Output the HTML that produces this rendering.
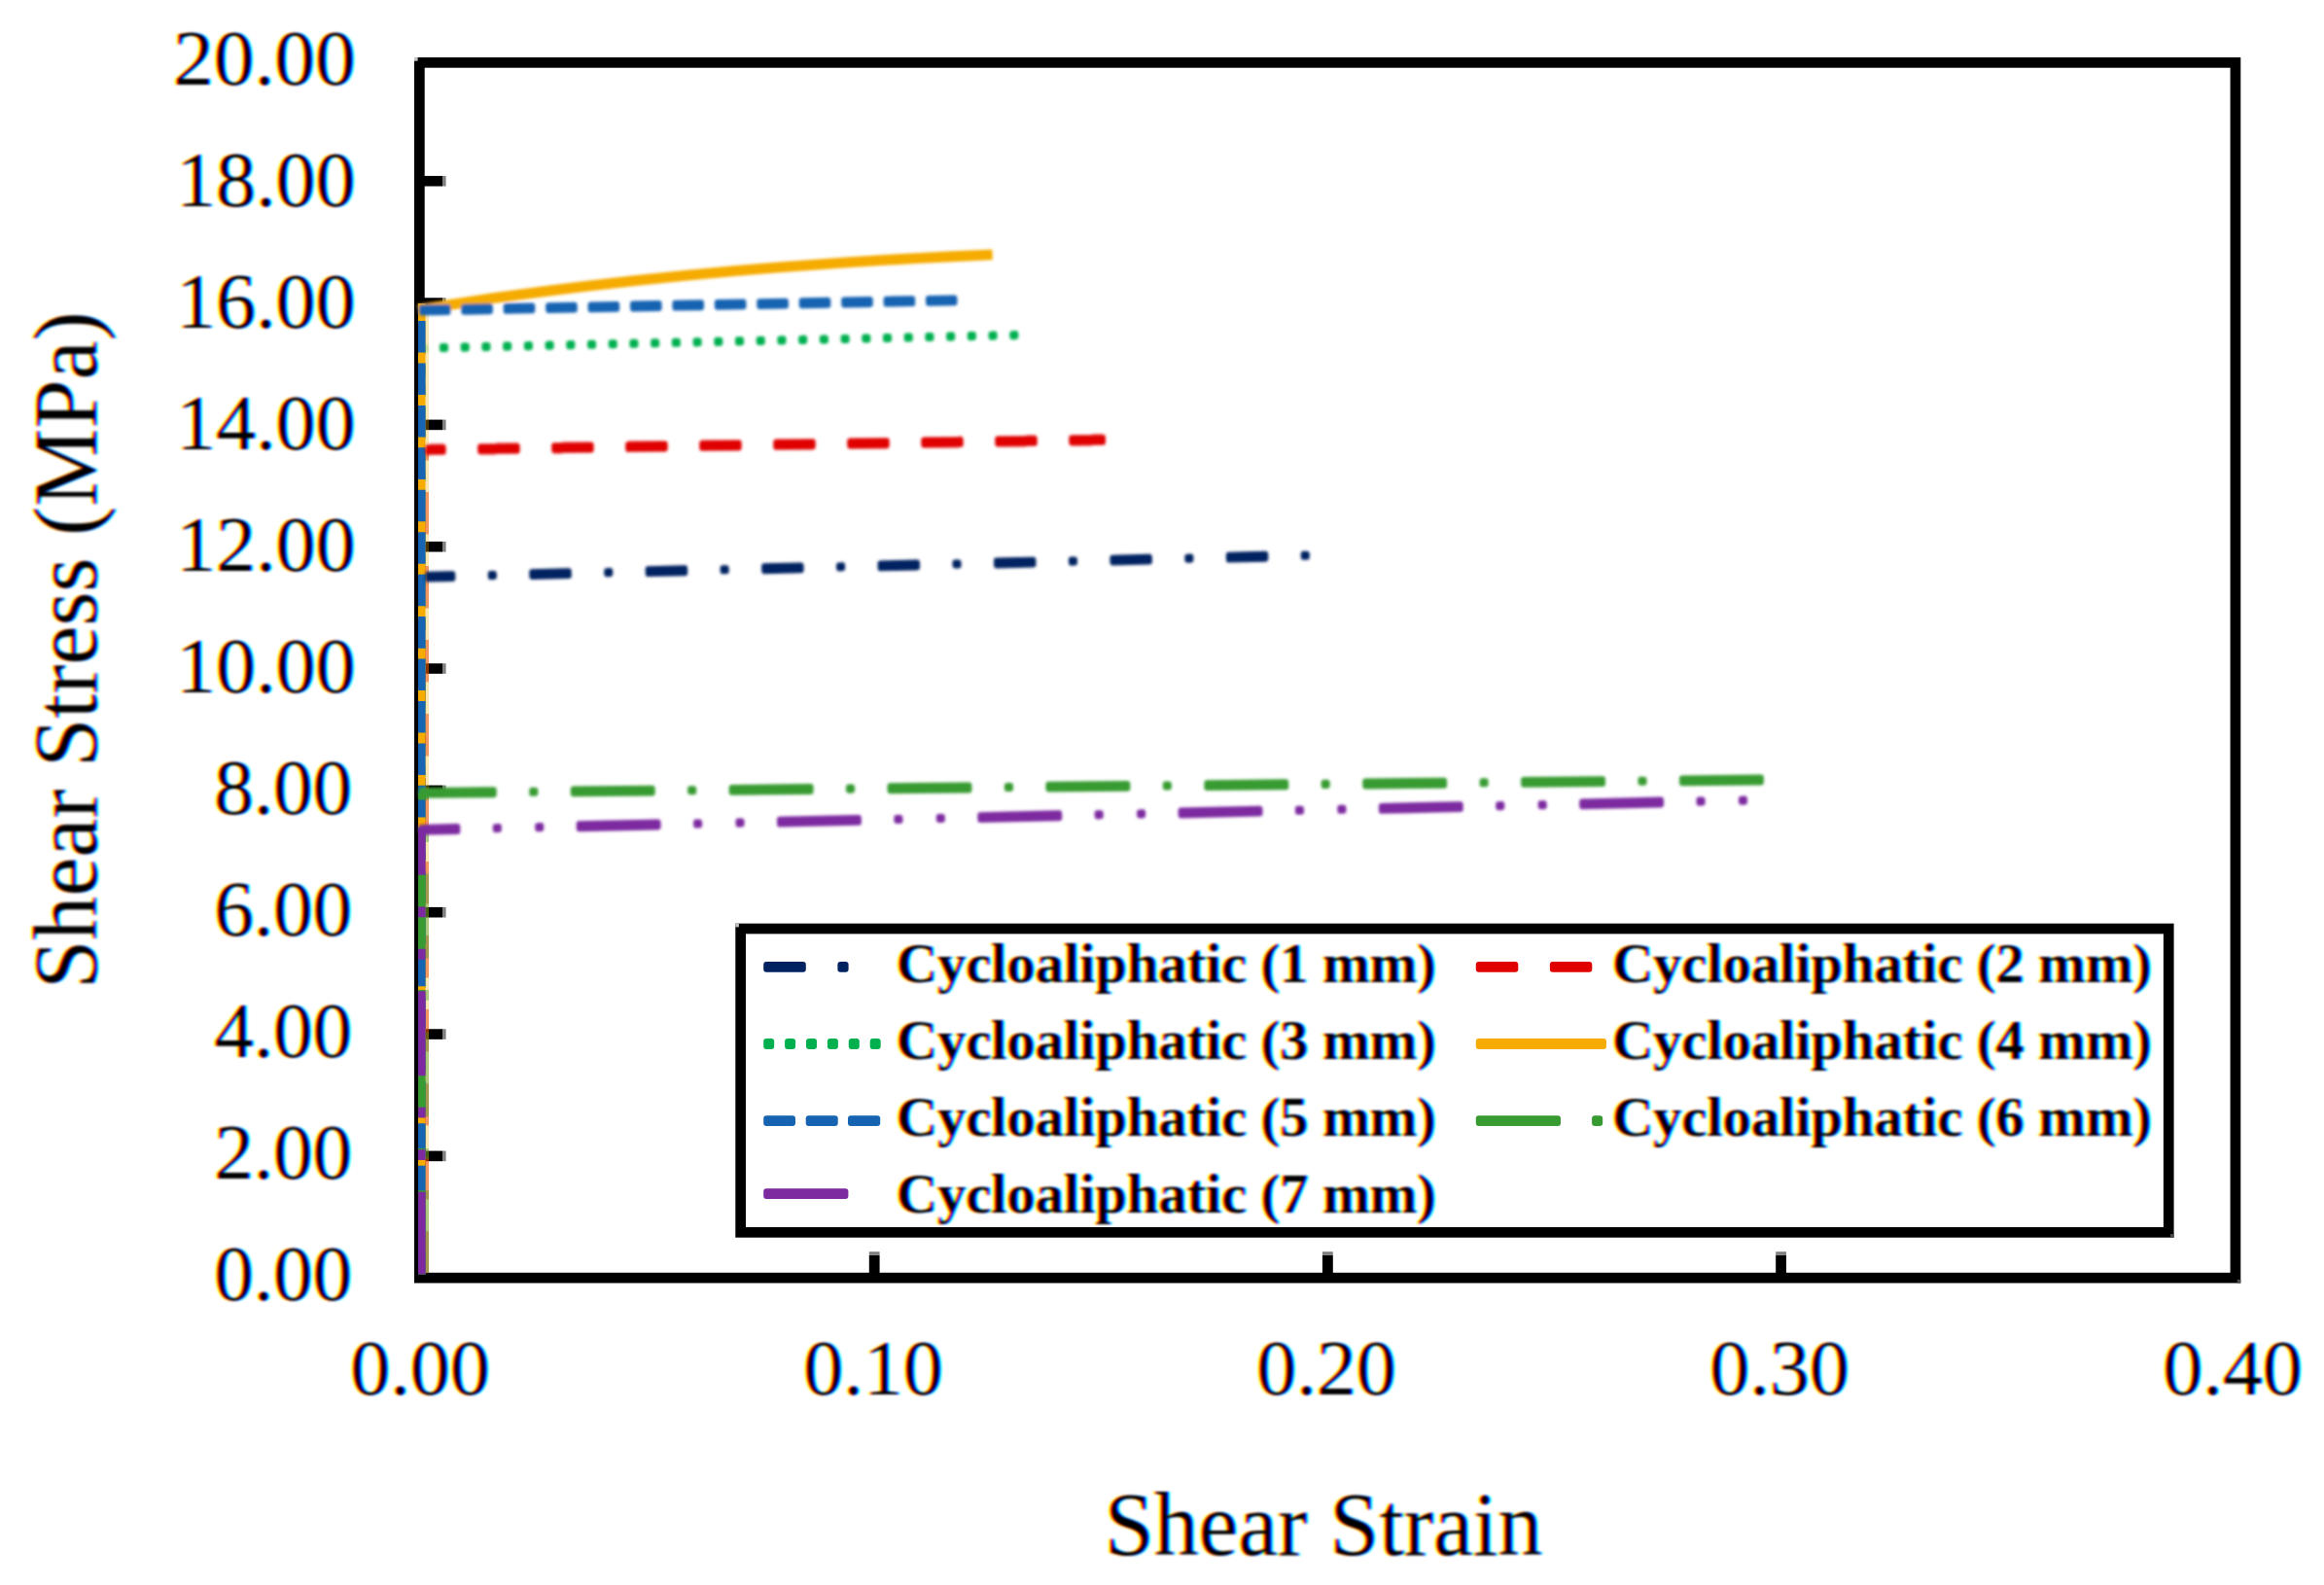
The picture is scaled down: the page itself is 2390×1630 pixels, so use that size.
<!DOCTYPE html>
<html lang="en"><head><meta charset="utf-8"><title>Shear Stress vs Shear Strain</title>
<style>html,body{margin:0;padding:0;background:#fff}body{width:2390px;height:1630px;overflow:hidden}svg{display:block}text{font-family:"Liberation Serif",serif;fill:#000}.b{font-weight:bold}</style></head><body>
<svg width="2390" height="1630" viewBox="0 0 2390 1630">
<defs>
<filter id="ct" filterUnits="userSpaceOnUse" x="0" y="0" width="2390" height="1630" color-interpolation-filters="sRGB">
<feGaussianBlur in="SourceAlpha" stdDeviation="1.0 0.8" result="a"/>
<feOffset in="a" dx="2.20" result="ar"/><feOffset in="a" dx="-2.20" result="ab"/>
<feColorMatrix in="ar" type="matrix" values="0 0 0 -1 1  0 0 0 0 1  0 0 0 0 1  0 0 0 0 1" result="c"/>
<feColorMatrix in="a" type="matrix" values="0 0 0 0 1  0 0 0 -1 1  0 0 0 0 1  0 0 0 0 1" result="m"/>
<feColorMatrix in="ab" type="matrix" values="0 0 0 0 1  0 0 0 0 1  0 0 0 -1 1  0 0 0 0 1" result="y"/>
<feBlend in="c" in2="m" mode="multiply" result="cm"/><feBlend in="cm" in2="y" mode="multiply"/>
</filter>
<filter id="soft" filterUnits="userSpaceOnUse" x="0" y="0" width="2390" height="1630"><feGaussianBlur stdDeviation="1.50"/></filter>
<filter id="soft2" filterUnits="userSpaceOnUse" x="700" y="900" width="1600" height="420"><feGaussianBlur stdDeviation="0.6"/></filter>
</defs>
<rect x="0" y="0" width="2390" height="1630" fill="#fff"/>
<g filter="url(#ct)">
<text transform="translate(362.10 1336.80)" font-size="81.00" text-anchor="end">0.00</text>
<text transform="translate(362.10 1211.83)" font-size="81.00" text-anchor="end">2.00</text>
<text transform="translate(362.10 1086.86)" font-size="81.00" text-anchor="end">4.00</text>
<text transform="translate(362.10 961.89)" font-size="81.00" text-anchor="end">6.00</text>
<text transform="translate(362.10 836.92)" font-size="81.00" text-anchor="end">8.00</text>
<text transform="translate(365.40 711.95) scale(1.0120 1.0000)" font-size="81.00" text-anchor="end">10.00</text>
<text transform="translate(365.40 586.98) scale(1.0120 1.0000)" font-size="81.00" text-anchor="end">12.00</text>
<text transform="translate(365.40 462.01) scale(1.0120 1.0000)" font-size="81.00" text-anchor="end">14.00</text>
<text transform="translate(365.40 337.04) scale(1.0120 1.0000)" font-size="81.00" text-anchor="end">16.00</text>
<text transform="translate(365.40 212.07) scale(1.0120 1.0000)" font-size="81.00" text-anchor="end">18.00</text>
<text transform="translate(365.80 87.10) scale(1.0300 1.0000)" font-size="81.00" text-anchor="end">20.00</text>
<text transform="translate(432.00 1433.50) scale(1.0120 1.0000)" font-size="81.00" text-anchor="middle">0.00</text>
<text transform="translate(898.00 1433.50) scale(1.0120 1.0000)" font-size="81.00" text-anchor="middle">0.10</text>
<text transform="translate(1364.00 1433.50) scale(1.0120 1.0000)" font-size="81.00" text-anchor="middle">0.20</text>
<text transform="translate(1830.00 1433.50) scale(1.0120 1.0000)" font-size="81.00" text-anchor="middle">0.30</text>
<text transform="translate(2296.00 1433.50) scale(1.0120 1.0000)" font-size="81.00" text-anchor="middle">0.40</text>
<text transform="translate(1360.90 1598.60) scale(0.9745 1.0000)" font-size="94.00" text-anchor="middle">Shear Strain</text>
<text transform="translate(98.80 668.70) rotate(-90) scale(0.9600 1.0000)" font-size="94.00" text-anchor="middle">Shear Stress (MPa)</text>
<text transform="translate(921.80 1009.50) scale(1.0073 1.0000)" font-size="58.00" text-anchor="start" class="b">Cycloaliphatic (1 mm)</text>
<text transform="translate(1657.90 1009.50) scale(1.0073 1.0000)" font-size="58.00" text-anchor="start" class="b">Cycloaliphatic (2 mm)</text>
<text transform="translate(921.80 1088.50) scale(1.0073 1.0000)" font-size="58.00" text-anchor="start" class="b">Cycloaliphatic (3 mm)</text>
<text transform="translate(1657.90 1088.50) scale(1.0073 1.0000)" font-size="58.00" text-anchor="start" class="b">Cycloaliphatic (4 mm)</text>
<text transform="translate(921.80 1167.50) scale(1.0073 1.0000)" font-size="58.00" text-anchor="start" class="b">Cycloaliphatic (5 mm)</text>
<text transform="translate(1657.90 1167.50) scale(1.0073 1.0000)" font-size="58.00" text-anchor="start" class="b">Cycloaliphatic (6 mm)</text>
<text transform="translate(921.80 1246.50) scale(1.0073 1.0000)" font-size="58.00" text-anchor="start" class="b">Cycloaliphatic (7 mm)</text>
</g>
<rect x="431.35" y="64.35" width="1867.60" height="1249.80" fill="none" stroke="#000" stroke-width="10.70"/>
<rect x="426" y="59" width="3.6" height="3.7" fill="#c4c4c4"/><rect x="2300.7" y="1315.8" width="3.6" height="3.7" fill="#4a4a4a"/>
<rect x="436.0" y="1183.57" width="19.0" height="10.6" fill="#000"/>
<rect x="455.0" y="1183.57" width="3.6" height="10.6" fill="#808080"/>
<rect x="436.0" y="1058.24" width="19.0" height="10.6" fill="#000"/>
<rect x="455.0" y="1058.24" width="3.6" height="10.6" fill="#808080"/>
<rect x="436.0" y="932.91" width="19.0" height="10.6" fill="#000"/>
<rect x="455.0" y="932.91" width="3.6" height="10.6" fill="#808080"/>
<rect x="436.0" y="807.58" width="19.0" height="10.6" fill="#000"/>
<rect x="455.0" y="807.58" width="3.6" height="10.6" fill="#808080"/>
<rect x="436.0" y="682.25" width="19.0" height="10.6" fill="#000"/>
<rect x="455.0" y="682.25" width="3.6" height="10.6" fill="#808080"/>
<rect x="436.0" y="556.92" width="19.0" height="10.6" fill="#000"/>
<rect x="455.0" y="556.92" width="3.6" height="10.6" fill="#808080"/>
<rect x="436.0" y="431.59" width="19.0" height="10.6" fill="#000"/>
<rect x="455.0" y="431.59" width="3.6" height="10.6" fill="#808080"/>
<rect x="436.0" y="306.26" width="19.0" height="10.6" fill="#000"/>
<rect x="455.0" y="306.26" width="3.6" height="10.6" fill="#808080"/>
<rect x="436.0" y="180.93" width="19.0" height="10.6" fill="#000"/>
<rect x="455.0" y="180.93" width="3.6" height="10.6" fill="#808080"/>
<rect x="893.80" y="1290.9" width="10.8" height="19.5" fill="#000"/>
<rect x="893.80" y="1287.2" width="10.8" height="3.7" fill="#808080"/>
<rect x="1360.00" y="1290.9" width="10.8" height="19.5" fill="#000"/>
<rect x="1360.00" y="1287.2" width="10.8" height="3.7" fill="#808080"/>
<rect x="1826.20" y="1290.9" width="10.8" height="19.5" fill="#000"/>
<rect x="1826.20" y="1287.2" width="10.8" height="3.7" fill="#808080"/>
<path d="M439.30 1309.20 V462.60" fill="none" stroke="#E00000" stroke-opacity="0.45" stroke-width="3.40" stroke-dasharray="43.44,32.58" stroke-dashoffset="0.42"/>
<path d="M439.30 1309.20 V317.40" fill="none" stroke="#F5AB00" stroke-opacity="0.30" stroke-width="3.40"/>
<path d="M439.30 1309.20 V815.40" fill="none" stroke="#389B32" stroke-opacity="0.40" stroke-width="3.40" stroke-dasharray="86.88,32.58,10.86,32.58" stroke-dashoffset="2.00"/>
<path d="M433.80 1310.20 V593.30" fill="none" stroke="#002060" stroke-width="7.60" stroke-dasharray="43.44,32.58,10.86,32.58" stroke-dashoffset="10.96"/>
<path d="M433.80 1310.20 V462.60" fill="none" stroke="#E00000" stroke-width="7.60" stroke-dasharray="43.44,32.58" stroke-dashoffset="75.44"/>
<path d="M433.80 1310.20 V358.00" fill="none" stroke="#00B050" stroke-width="7.60" stroke-dasharray="10.86,10.86" stroke-dashoffset="10.10"/>
<path d="M433.80 1310.20 V311.97" fill="none" stroke="#F5AB00" stroke-width="7.60"/>
<path d="M433.80 1310.20 V319.00" fill="none" stroke="#1664B2" stroke-width="7.60" stroke-dasharray="32.58,10.86" stroke-dashoffset="8.06"/>
<path d="M433.80 1310.20 V815.40" fill="none" stroke="#389B32" stroke-width="7.60" stroke-dasharray="86.88,32.58,10.86,32.58" stroke-dashoffset="1.00"/>
<path d="M433.80 1310.20 V853.30" fill="none" stroke="#7D2AA0" stroke-width="7.60" stroke-dasharray="86.88,32.58,10.86,32.58,10.86,32.58" stroke-dashoffset="2.32"/>
<g filter="url(#soft)">
<g transform="translate(436.00 593.30) rotate(-1.3934)" fill="#002060">
<rect x="1.50" y="-5.43" width="30.84" height="10.86" rx="3.0"/>
<rect x="65.82" y="-4.53" width="9.06" height="9.06" rx="3.0"/>
<rect x="108.36" y="-5.43" width="43.44" height="10.86" rx="3.0"/>
<rect x="185.28" y="-4.53" width="9.06" height="9.06" rx="3.0"/>
<rect x="227.82" y="-5.43" width="43.44" height="10.86" rx="3.0"/>
<rect x="304.74" y="-4.53" width="9.06" height="9.06" rx="3.0"/>
<rect x="347.28" y="-5.43" width="43.44" height="10.86" rx="3.0"/>
<rect x="424.20" y="-4.53" width="9.06" height="9.06" rx="3.0"/>
<rect x="466.74" y="-5.43" width="43.44" height="10.86" rx="3.0"/>
<rect x="543.66" y="-4.53" width="9.06" height="9.06" rx="3.0"/>
<rect x="586.20" y="-5.43" width="43.44" height="10.86" rx="3.0"/>
<rect x="663.12" y="-4.53" width="9.06" height="9.06" rx="3.0"/>
<rect x="705.66" y="-5.43" width="43.44" height="10.86" rx="3.0"/>
<rect x="782.58" y="-4.53" width="9.06" height="9.06" rx="3.0"/>
<rect x="825.12" y="-5.43" width="43.44" height="10.86" rx="3.0"/>
<rect x="902.04" y="-4.53" width="9.06" height="9.06" rx="3.0"/>
</g>
<g transform="translate(436.00 462.60) rotate(-0.8419)" fill="#E00000">
<rect x="1.50" y="-5.43" width="21.14" height="10.86" rx="3.0"/>
<rect x="55.22" y="-5.43" width="43.44" height="10.86" rx="3.0"/>
<rect x="131.24" y="-5.43" width="43.44" height="10.86" rx="3.0"/>
<rect x="207.26" y="-5.43" width="43.44" height="10.86" rx="3.0"/>
<rect x="283.28" y="-5.43" width="43.44" height="10.86" rx="3.0"/>
<rect x="359.30" y="-5.43" width="43.44" height="10.86" rx="3.0"/>
<rect x="435.32" y="-5.43" width="43.44" height="10.86" rx="3.0"/>
<rect x="511.34" y="-5.43" width="43.44" height="10.86" rx="3.0"/>
<rect x="587.36" y="-5.43" width="43.44" height="10.86" rx="3.0"/>
<rect x="663.38" y="-5.43" width="37.60" height="10.86" rx="3.0"/>
</g>
<g transform="translate(436.00 358.00) rotate(-1.2606)" fill="#00B050">
<rect x="2.40" y="-4.53" width="0.94" height="9.06" rx="3.0"/>
<rect x="16.00" y="-4.53" width="9.06" height="9.06" rx="3.0"/>
<rect x="37.72" y="-4.53" width="9.06" height="9.06" rx="3.0"/>
<rect x="59.44" y="-4.53" width="9.06" height="9.06" rx="3.0"/>
<rect x="81.16" y="-4.53" width="9.06" height="9.06" rx="3.0"/>
<rect x="102.88" y="-4.53" width="9.06" height="9.06" rx="3.0"/>
<rect x="124.60" y="-4.53" width="9.06" height="9.06" rx="3.0"/>
<rect x="146.32" y="-4.53" width="9.06" height="9.06" rx="3.0"/>
<rect x="168.04" y="-4.53" width="9.06" height="9.06" rx="3.0"/>
<rect x="189.76" y="-4.53" width="9.06" height="9.06" rx="3.0"/>
<rect x="211.48" y="-4.53" width="9.06" height="9.06" rx="3.0"/>
<rect x="233.20" y="-4.53" width="9.06" height="9.06" rx="3.0"/>
<rect x="254.92" y="-4.53" width="9.06" height="9.06" rx="3.0"/>
<rect x="276.64" y="-4.53" width="9.06" height="9.06" rx="3.0"/>
<rect x="298.36" y="-4.53" width="9.06" height="9.06" rx="3.0"/>
<rect x="320.08" y="-4.53" width="9.06" height="9.06" rx="3.0"/>
<rect x="341.80" y="-4.53" width="9.06" height="9.06" rx="3.0"/>
<rect x="363.52" y="-4.53" width="9.06" height="9.06" rx="3.0"/>
<rect x="385.24" y="-4.53" width="9.06" height="9.06" rx="3.0"/>
<rect x="406.96" y="-4.53" width="9.06" height="9.06" rx="3.0"/>
<rect x="428.68" y="-4.53" width="9.06" height="9.06" rx="3.0"/>
<rect x="450.40" y="-4.53" width="9.06" height="9.06" rx="3.0"/>
<rect x="472.12" y="-4.53" width="9.06" height="9.06" rx="3.0"/>
<rect x="493.84" y="-4.53" width="9.06" height="9.06" rx="3.0"/>
<rect x="515.56" y="-4.53" width="9.06" height="9.06" rx="3.0"/>
<rect x="537.28" y="-4.53" width="9.06" height="9.06" rx="3.0"/>
<rect x="559.00" y="-4.53" width="9.06" height="9.06" rx="3.0"/>
<rect x="580.72" y="-4.53" width="9.06" height="9.06" rx="3.0"/>
<rect x="602.44" y="-4.53" width="9.06" height="9.06" rx="3.0"/>
</g>
<path d="M430.00 318.30 C443.18 316.33 483.75 310.06 509.10 306.48 C534.45 302.90 557.75 299.84 582.10 296.83 C606.45 293.81 630.85 291.01 655.20 288.39 C679.55 285.77 703.85 283.35 728.20 281.10 C752.55 278.85 776.93 276.79 801.30 274.88 C825.67 272.97 850.05 271.25 874.40 269.66 C898.75 268.08 923.03 266.66 947.40 265.37 C971.77 264.08 1008.40 262.50 1020.60 261.93" fill="none" stroke="#F5AB00" stroke-width="10.86"/>
<g transform="translate(436.00 319.00) rotate(-1.0654)" fill="#1664B2">
<rect x="-5.14" y="-5.43" width="32.58" height="10.86" rx="3.0"/>
<rect x="38.30" y="-5.43" width="32.58" height="10.86" rx="3.0"/>
<rect x="81.74" y="-5.43" width="32.58" height="10.86" rx="3.0"/>
<rect x="125.18" y="-5.43" width="32.58" height="10.86" rx="3.0"/>
<rect x="168.62" y="-5.43" width="32.58" height="10.86" rx="3.0"/>
<rect x="212.06" y="-5.43" width="32.58" height="10.86" rx="3.0"/>
<rect x="255.50" y="-5.43" width="32.58" height="10.86" rx="3.0"/>
<rect x="298.94" y="-5.43" width="32.58" height="10.86" rx="3.0"/>
<rect x="342.38" y="-5.43" width="32.58" height="10.86" rx="3.0"/>
<rect x="385.82" y="-5.43" width="32.58" height="10.86" rx="3.0"/>
<rect x="429.26" y="-5.43" width="32.58" height="10.86" rx="3.0"/>
<rect x="472.70" y="-5.43" width="32.58" height="10.86" rx="3.0"/>
<rect x="516.14" y="-5.43" width="32.45" height="10.86" rx="3.0"/>
</g>
<g transform="translate(436.00 815.40) rotate(-0.5569)" fill="#389B32">
<rect x="-5.50" y="-5.43" width="80.28" height="10.86" rx="3.0"/>
<rect x="108.26" y="-4.53" width="9.06" height="9.06" rx="3.0"/>
<rect x="150.80" y="-5.43" width="86.88" height="10.86" rx="3.0"/>
<rect x="271.16" y="-4.53" width="9.06" height="9.06" rx="3.0"/>
<rect x="313.70" y="-5.43" width="86.88" height="10.86" rx="3.0"/>
<rect x="434.06" y="-4.53" width="9.06" height="9.06" rx="3.0"/>
<rect x="476.60" y="-5.43" width="86.88" height="10.86" rx="3.0"/>
<rect x="596.96" y="-4.53" width="9.06" height="9.06" rx="3.0"/>
<rect x="639.50" y="-5.43" width="86.88" height="10.86" rx="3.0"/>
<rect x="759.86" y="-4.53" width="9.06" height="9.06" rx="3.0"/>
<rect x="802.40" y="-5.43" width="86.88" height="10.86" rx="3.0"/>
<rect x="922.76" y="-4.53" width="9.06" height="9.06" rx="3.0"/>
<rect x="965.30" y="-5.43" width="86.88" height="10.86" rx="3.0"/>
<rect x="1085.66" y="-4.53" width="9.06" height="9.06" rx="3.0"/>
<rect x="1128.20" y="-5.43" width="86.88" height="10.86" rx="3.0"/>
<rect x="1248.56" y="-4.53" width="9.06" height="9.06" rx="3.0"/>
<rect x="1291.10" y="-5.43" width="86.88" height="10.86" rx="3.0"/>
</g>
<g transform="translate(436.00 853.30) rotate(-1.2740)" fill="#7D2AA0">
<rect x="-5.50" y="-5.43" width="42.84" height="10.86" rx="3.0"/>
<rect x="70.82" y="-4.53" width="9.06" height="9.06" rx="3.0"/>
<rect x="114.26" y="-4.53" width="9.06" height="9.06" rx="3.0"/>
<rect x="156.80" y="-5.43" width="86.88" height="10.86" rx="3.0"/>
<rect x="277.16" y="-4.53" width="9.06" height="9.06" rx="3.0"/>
<rect x="320.60" y="-4.53" width="9.06" height="9.06" rx="3.0"/>
<rect x="363.14" y="-5.43" width="86.88" height="10.86" rx="3.0"/>
<rect x="483.50" y="-4.53" width="9.06" height="9.06" rx="3.0"/>
<rect x="526.94" y="-4.53" width="9.06" height="9.06" rx="3.0"/>
<rect x="569.48" y="-5.43" width="86.88" height="10.86" rx="3.0"/>
<rect x="689.84" y="-4.53" width="9.06" height="9.06" rx="3.0"/>
<rect x="733.28" y="-4.53" width="9.06" height="9.06" rx="3.0"/>
<rect x="775.82" y="-5.43" width="86.88" height="10.86" rx="3.0"/>
<rect x="896.18" y="-4.53" width="9.06" height="9.06" rx="3.0"/>
<rect x="939.62" y="-4.53" width="9.06" height="9.06" rx="3.0"/>
<rect x="982.16" y="-5.43" width="86.88" height="10.86" rx="3.0"/>
<rect x="1102.52" y="-4.53" width="9.06" height="9.06" rx="3.0"/>
<rect x="1145.96" y="-4.53" width="9.06" height="9.06" rx="3.0"/>
<rect x="1188.50" y="-5.43" width="86.88" height="10.86" rx="3.0"/>
<rect x="1308.86" y="-4.53" width="9.06" height="9.06" rx="3.0"/>
<rect x="1352.30" y="-4.53" width="9.06" height="9.06" rx="3.0"/>
</g>
</g>
<rect x="761.65" y="955.05" width="1468.60" height="312.30" fill="none" stroke="#000" stroke-width="10.70"/>
<rect x="756.3" y="949.7" width="3.6" height="3.7" fill="#c4c4c4"/><rect x="2232" y="1269" width="3.6" height="3.7" fill="#4a4a4a"/>
<g filter="url(#soft2)">
<rect x="785.2" y="989.0" width="43.6" height="10.8" rx="3" fill="#002060"/>
<rect x="861.4" y="989.0" width="11.2" height="10.8" rx="3" fill="#002060"/>
<rect x="785.2" y="1068.1" width="11.0" height="10.8" rx="3" fill="#00B050"/>
<rect x="807.1" y="1068.1" width="11.0" height="10.8" rx="3" fill="#00B050"/>
<rect x="829.0" y="1068.1" width="11.0" height="10.8" rx="3" fill="#00B050"/>
<rect x="850.9" y="1068.1" width="11.0" height="10.8" rx="3" fill="#00B050"/>
<rect x="872.8" y="1068.1" width="11.0" height="10.8" rx="3" fill="#00B050"/>
<rect x="894.7" y="1068.1" width="11.0" height="10.8" rx="3" fill="#00B050"/>
<rect x="785.2" y="1147.2" width="32.8" height="10.8" rx="3" fill="#1664B2"/>
<rect x="828.7" y="1147.2" width="33.0" height="10.8" rx="3" fill="#1664B2"/>
<rect x="872.0" y="1147.2" width="33.2" height="10.8" rx="3" fill="#1664B2"/>
<rect x="785.2" y="1222.3" width="87.2" height="10.8" rx="3" fill="#7D2AA0"/>
<rect x="1517.8" y="989.0" width="43.5" height="10.8" rx="3" fill="#E00000"/>
<rect x="1593.9" y="989.0" width="43.4" height="10.8" rx="3" fill="#E00000"/>
<rect x="1517.8" y="1068.1" width="134.2" height="10.8" rx="3" fill="#F5AB00"/>
<rect x="1517.8" y="1147.2" width="87.2" height="10.8" rx="3" fill="#389B32"/>
<rect x="1637.1" y="1147.2" width="11.1" height="10.8" rx="3" fill="#389B32"/>
</g>
</svg></body></html>
